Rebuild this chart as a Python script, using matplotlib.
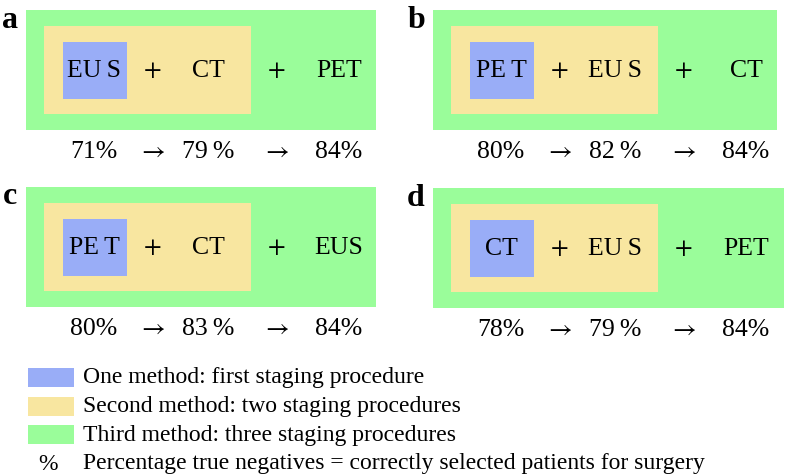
import matplotlib
matplotlib.use("Agg")
import matplotlib.pyplot as plt
from matplotlib.patches import Rectangle

plt.rcParams['font.family'] = ['Liberation Serif', 'DejaVu Serif']
plt.rcParams['mathtext.fontset'] = 'stix'

# datos de los cuatro esquemas
paneles = ['a', 'b', 'c', 'd']
procedimientos = [
    ['EU\u2009S', 'CT', 'PET'],
    ['PE\u2009T', 'EU\u2009S', 'CT'],
    ['PE\u2009T', 'CT', 'EUS'],
    ['CT', 'EU\u2009S', 'PET'],
]
porcentajes = [
    ['71%', '79\u2009%', '84%'],
    ['80%', '82\u2009%', '84%'],
    ['80%', '83\u2009%', '84%'],
    ['78%', '79\u2009%', '84%'],
]
leyenda = [
    'One method: first staging procedure',
    'Second method: two staging procedures',
    'Third method: three staging procedures',
]
nota = 'Percentage true negatives = correctly selected patients for surgery'

azul = '#99adf7'
amarillo = '#f8e6a0'
verde = '#9afd9a'

# esquina superior izquierda (px) y ancho del rectangulo verde de cada panel
origen = [(26, 10, 350), (433, 10, 344), (26, 187, 350), (433, 188, 351)]
letra_pos = [(10, 20), (416, 20), (10, 197), (416, 198)]

fig = plt.figure(figsize=(7.86, 4.76), dpi=100)
ax = fig.add_axes([0, 0, 1, 1])
ax.set_xlim(0, 786)
ax.set_ylim(476, 0)
ax.axis('off')

fs = 18.5
for i in range(4):
    x0, y0, w = origen[i]
    ax.add_patch(Rectangle((x0, y0), w, 120, color=verde, lw=0))
    ax.add_patch(Rectangle((x0 + 18, y0 + 16), 207, 88, color=amarillo, lw=0))
    ax.add_patch(Rectangle((x0 + 37, y0 + 32), 64, 57, color=azul, lw=0))
    lx, ly = letra_pos[i]
    ax.text(lx, ly, paneles[i], fontsize=23, fontweight='bold', ha='center', va='center')

    xs = [x0 + 68, x0 + 126, x0 + 182, x0 + 250, x0 + 313]
    yc = y0 + 61
    yp = y0 + 142
    textos = [procedimientos[i][0], r'$+$', procedimientos[i][1], r'$+$', procedimientos[i][2]]
    for x, t in zip(xs, textos):
        ax.text(x, yc, t, fontsize=fs, ha='center', va='center')
    fila = [porcentajes[i][0], r'$\rightarrow$', porcentajes[i][1], r'$\rightarrow$', porcentajes[i][2]]
    for x, t in zip(xs, fila):
        ax.text(x, yp, t, fontsize=fs, ha='center', va='center')

# leyenda
colores = [azul, amarillo, verde]
for j, (c, t) in enumerate(zip(colores, leyenda)):
    y = 368 + j * 28.5
    ax.add_patch(Rectangle((28, y), 46, 19, color=c, lw=0))
    ax.text(83, y + 10, t, fontsize=17, ha='left', va='center')
ax.text(48, 464, '%', fontsize=17, ha='center', va='center')
ax.text(83, 464, nota, fontsize=17, ha='left', va='center')

fig.savefig('out.png', dpi=100)
